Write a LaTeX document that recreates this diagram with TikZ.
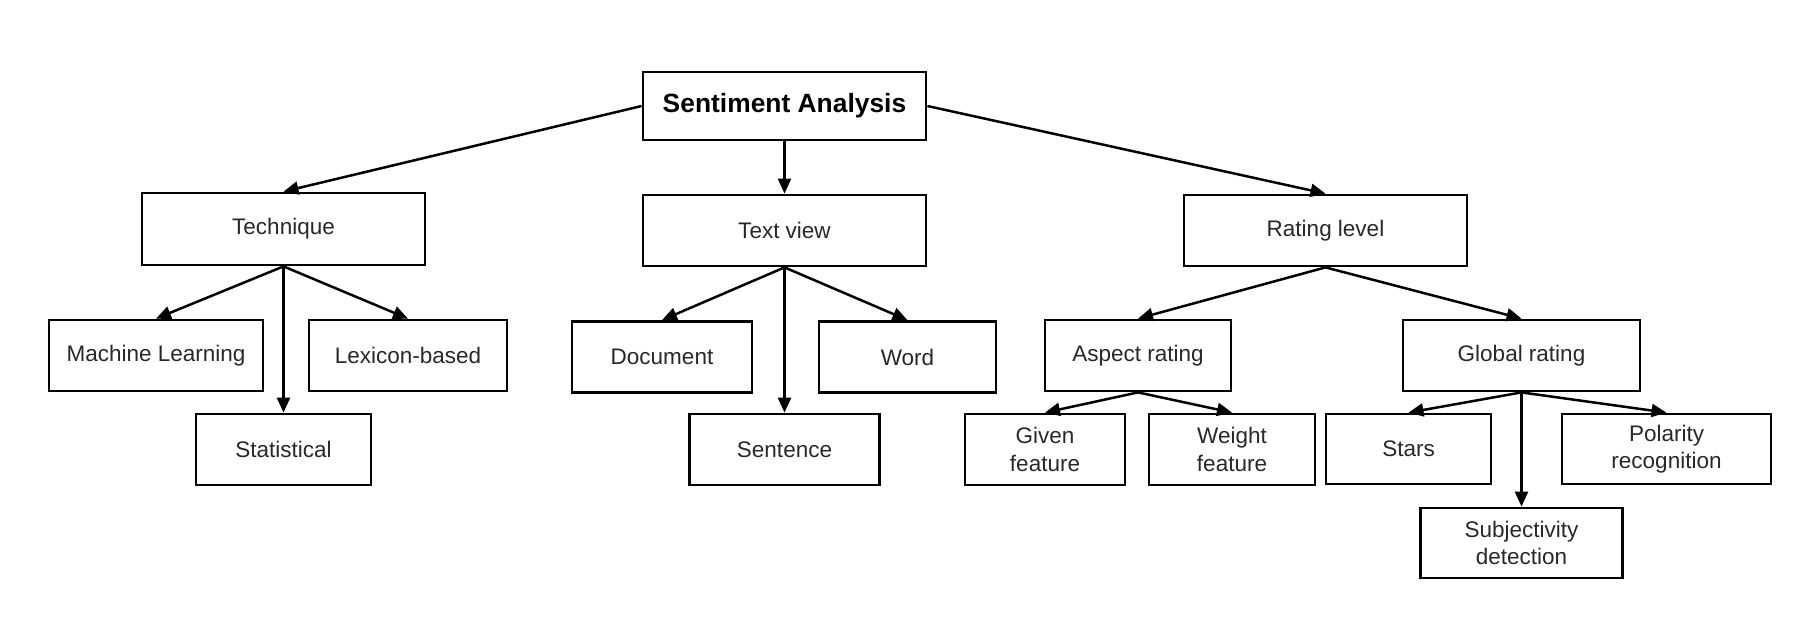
\documentclass[tikz,border=0pt]{standalone}
\usepackage{fontspec}
\setmainfont{Liberation Sans}
\usetikzlibrary{arrows.meta}
\definecolor{txt}{RGB}{40,40,40}
\begin{document}
\begin{tikzpicture}[x=0.5pt,y=-0.5pt,
  box/.style={draw=black, line width=1.4pt, rectangle, inner sep=0pt, align=center, text=txt,
    font=\fontsize{11.25}{13.8}\selectfont, minimum height=35.5pt},
  arr/.style={line width=1.25pt, -{Triangle[length=7.5pt,width=6.5pt]}}]
\useasboundingbox (0,0) rectangle (1820,630);
% root
\node[box, minimum width=141.5pt, minimum height=34pt, text=black,
  font=\fontsize{13.2}{16}\selectfont\bfseries] (sa) at (784.5,106) {Sentiment Analysis};
% level 1
\node[box, minimum width=141.5pt, minimum height=36pt] (tech) at (283.5,229) {Technique};
\node[box, minimum width=141.5pt] (tv) at (784.5,230.5) {Text view};
\node[box, minimum width=141.5pt] (rate) at (1325.5,230.5) {Rating level};
% technique children
\node[box, minimum width=107pt] (ml) at (156,355.5) {Machine Learning};
\node[box, minimum width=99pt] (lex) at (408,355.5) {Lexicon-based};
\node[box, minimum width=87.5pt] (stat) at (283.5,449.5) {Statistical};
% text view children
\node[box, minimum width=90pt] (doc) at (662,357) {Document};
\node[box, minimum width=88.5pt] (word) at (907.5,357) {Word};
\node[box, minimum width=95pt] (sent) at (784.5,449.5) {Sentence};
% rating children
\node[box, minimum width=93pt] (asp) at (1138,355.5) {Aspect rating};
\node[box, minimum width=118.5pt] (glob) at (1521.5,355.5) {Global rating};
\node[box, minimum width=80pt] (given) at (1045,449.5) {Given\\feature};
\node[box, minimum width=83pt] (weight) at (1232,449.5) {Weight\\feature};
\node[box, minimum width=82.5pt, minimum height=35pt] (stars) at (1408.5,449) {Stars};
\node[box, minimum width=104.5pt, minimum height=35pt] (pol) at (1666.5,449) {Polarity\\recognition};
\node[box, minimum width=101pt, minimum height=35pt] (subj) at (1521.5,543) {Subjectivity\\detection};
% connectors
\draw[arr] (sa.west) -- (tech.north);
\draw[arr] (sa.south) -- (tv.north);
\draw[arr] (sa.east) -- (rate.north);
\draw[arr] (tech.south) -- (ml.north);
\draw[arr] (tech.south) -- (stat.north);
\draw[arr] (tech.south) -- (lex.north);
\draw[arr] (tv.south) -- (doc.north);
\draw[arr] (tv.south) -- (sent.north);
\draw[arr] (tv.south) -- (word.north);
\draw[arr] (rate.south) -- (asp.north);
\draw[arr] (rate.south) -- (glob.north);
\draw[arr] (asp.south) -- (given.north);
\draw[arr] (asp.south) -- (weight.north);
\draw[arr] (glob.south) -- (stars.north);
\draw[arr] (glob.south) -- (subj.north);
\draw[arr] (glob.south) -- (pol.north);
\end{tikzpicture}
\end{document}
